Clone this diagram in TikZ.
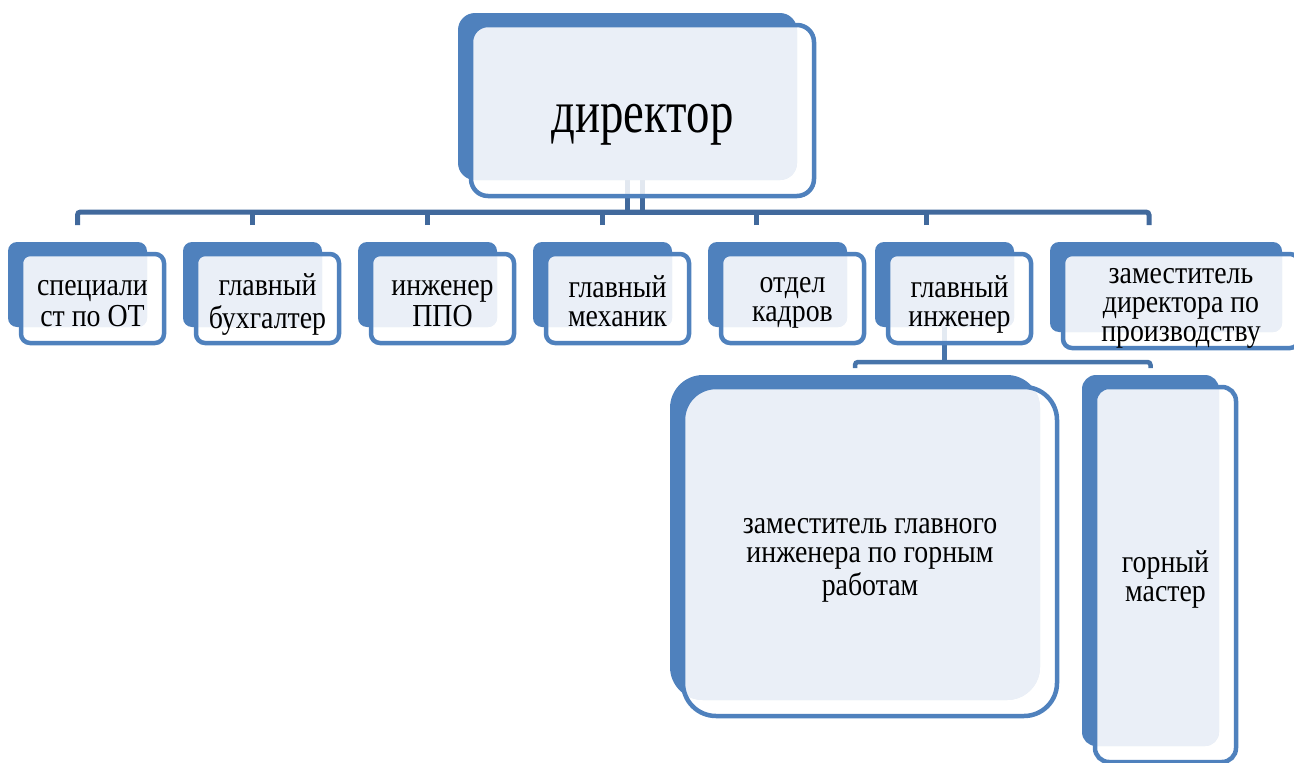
\documentclass[tikz,border=0pt]{standalone}
\usepackage{fontspec}
\setmainfont{Liberation Serif}[FakeStretch=0.87]
\newfontfamily\dirfont{Liberation Serif}[FakeStretch=0.78]
\usepackage{xcolor}
\usepackage{tikz}
\usetikzlibrary{positioning}
\definecolor{unitblue}{HTML}{4F81BD}
\definecolor{unitlight}{HTML}{EAEFF7}
\definecolor{linkblue}{HTML}{41699C}
\pgfdeclarelayer{links}
\pgfdeclarelayer{boxes}
\pgfsetlayers{links,boxes,main}
\newcommand{\unitfont}{\fontsize{32}{29}\selectfont}
% back plate, white front card, tinted overlap, text
\newcommand{\orgunit}[8][7]{%
  \begin{pgfonlayer}{boxes}
    \node[backbox, minimum width=#5pt, minimum height=#6pt, rounded corners=#7pt] (#2-b) at (#3,#4) {};
    \fill[white, fill opacity=.85, rounded corners=#7pt]
      ([shift={(13,12)}]#2-b.north west) rectangle ([shift={(17,16)}]#2-b.south east);
    \begin{scope}
      \clip[rounded corners=#7pt] (#2-b.north west) rectangle (#2-b.south east);
      \fill[unitlight, rounded corners=#7pt]
        ([shift={(13,12)}]#2-b.north west) rectangle ([shift={(17,16)}]#2-b.south east);
    \end{scope}
  \end{pgfonlayer}
  \node[frontbox, minimum width={#5pt+4pt}, minimum height={#6pt+4pt}, rounded corners=#7pt]
    (#2) at ([shift={(15,14)}]#2-b.center) {};
  \node[unittext] (#2-t) at ([yshift=-#1pt]#2.center) {#8};
}

\begin{document}
\begin{tikzpicture}[
  x=1pt, y=-1pt,
  backbox/.style={fill=unitblue, inner sep=0pt, outer sep=0pt},
  frontbox/.style={draw=unitblue, line width=4.5pt, inner sep=0pt, outer sep=0pt},
  unittext/.style={align=center, font=\unitfont, inner sep=0pt},
  link/.style={draw=linkblue, line width=5pt},
  sublink/.style={draw=unitblue!90!black, line width=4.5pt}
]
\useasboundingbox (0,0) rectangle (1294,763);

\orgunit[9]{dir}{627.5}{96.5}{339}{167}{17}{\dirfont\fontsize{60}{66}\selectfont\strut директор}

\orgunit{ot}{77.5}{284.5}{139}{85}{9}{\strut специали\\\strut ст по ОТ}
\orgunit{buh}{252.5}{284.5}{139}{85}{9}{\strut главный\\\strut бухгалтер}
\orgunit{ppo}{427.5}{284.5}{139}{85}{9}{\strut инженер\\\strut ППО}
\orgunit{meh}{602.5}{284.5}{139}{85}{9}{\strut главный\\\strut механик}
\orgunit[3]{kad}{777.5}{284.5}{139}{85}{9}{\strut отдел\\\strut кадров}
\orgunit{gi}{944.5}{284.5}{139}{85}{9}{\strut главный\\\strut инженер}
\orgunit[6]{zdp}{1166}{287}{232}{90}{9}{\strut заместитель\\\strut директора по\\\strut производству}

\orgunit{zgi}{855}{537.5}{370}{325}{33}{\strut заместитель главного\\\strut инженера по горным\\\strut работам}
\orgunit[6]{gm}{1150.5}{560.5}{137}{371}{14}{\strut горный\\\strut мастер}

\begin{pgfonlayer}{links}
  \coordinate (topbus) at ([yshift=-32pt]dir-b.south);
  \draw[link] (dir-b.center) -- (topbus);
  \draw[link] (dir.center) -- (dir.center |- topbus);
  \draw[link, rounded corners=3pt] ([yshift=17pt]ot-b.north) |- (topbus)
    -| ([xshift=-17pt, yshift=17pt]zdp-b.north);
  \foreach \u/\s in {buh/0, ppo/0, meh/0, kad/-21, gi/-18}
    \draw[link] ([xshift=\s pt, yshift=17pt]\u-b.north) |- (topbus);
  \coordinate (gibus) at ([yshift=-35pt]gi-b.south);
  \draw[sublink] (gi-b.center) -- (gibus);
  \draw[sublink, rounded corners=3pt] ([yshift=7pt]zgi-b.north) |- (gibus)
    -| ([yshift=7pt]gm-b.north);
\end{pgfonlayer}
\end{tikzpicture}
\end{document}
